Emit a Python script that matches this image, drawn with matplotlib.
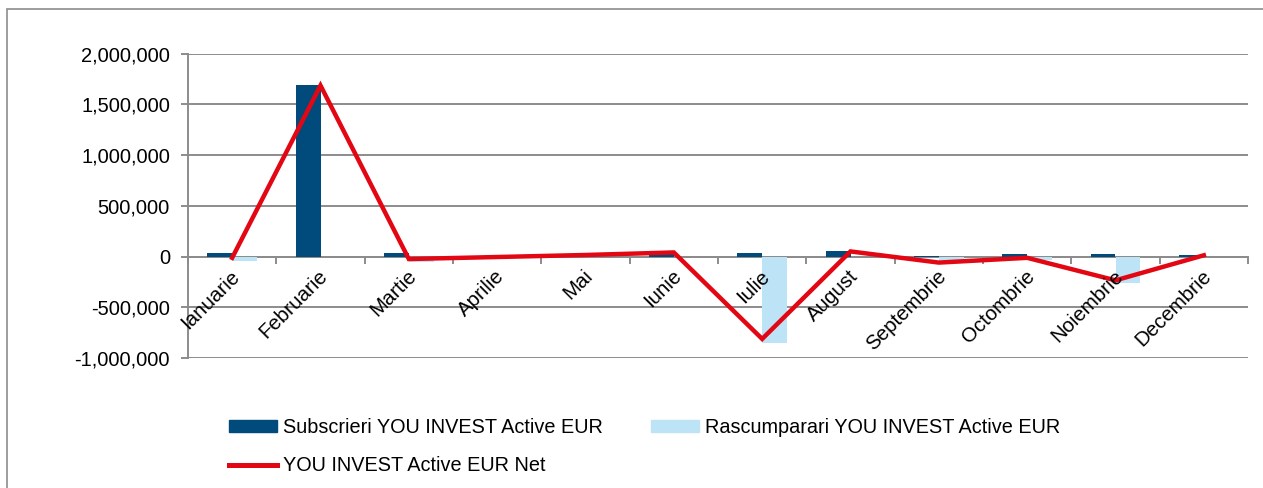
import matplotlib
matplotlib.use("Agg")
import matplotlib.pyplot as plt
from matplotlib.lines import Line2D
from matplotlib.patches import Patch, Rectangle
import numpy as np

# values (EUR)
luni = ["Ianuarie", "Februarie", "Martie", "Aprilie", "Mai", "Iunie",
        "Iulie", "August", "Septembrie", "Octombrie", "Noiembrie", "Decembrie"]
subscrieri = [35000, 1685000, 30000, 0, 15000, 40000,
              36000, 50000, 5000, 25000, 25000, 12000]
rascumparari = [-48000, 0, -55000, -5000, 0, 0,
                -848000, 0, -65000, -38000, -260000, 0]
net = [-13000, 1685000, -25000, -5000, 15000, 40000,
       -812000, 50000, -60000, -13000, -235000, 12000]
y_ticks = [-1000000, -500000, 0, 500000, 1000000, 1500000, 2000000]

c_sub = "#004a7c"
c_rasc = "#bde3f7"
c_net = "#e30613"
c_grid = "#8c8c8c"

plt.rcParams['font.family'] = ['Liberation Sans', 'DejaVu Sans']

fig = plt.figure(figsize=(12.63, 4.88), dpi=100)
ax = fig.add_axes([188 / 1263, 1 - 358 / 488, (1248 - 188) / 1263, (358 - 53.5) / 488])

x = np.arange(len(luni))
w = 0.28
ax.bar(x - w / 2, subscrieri, width=w, color=c_sub, zorder=2)
ax.bar(x + w / 2, rascumparari, width=w, color=c_rasc, zorder=2)
ax.plot(x, net, color=c_net, lw=3.2, zorder=4, solid_joinstyle='miter')

ax.set_xlim(-0.5, len(luni) - 0.5)
ax.set_ylim(-1000000, 2000000)
ax.set_yticks(y_ticks)
ax.set_yticklabels([f"{v:,}" for v in y_ticks], fontsize=14.5)
ax.yaxis.grid(True, color=c_grid, lw=1.4, zorder=0)
ax.set_axisbelow(True)

for s in ["top", "right"]:
    ax.spines[s].set_visible(False)
ax.spines["left"].set_color(c_grid)
ax.spines["left"].set_linewidth(1.4)
ax.spines["bottom"].set_position(("data", 0))
ax.spines["bottom"].set_color(c_grid)
ax.spines["bottom"].set_linewidth(1.4)
ax.spines["bottom"].set_zorder(1)
ax.tick_params(axis="y", length=5, width=1.4, color=c_grid, pad=8)
ax.set_xticks(np.arange(len(luni) + 1) - 0.5)
ax.set_xticklabels([])
ax.tick_params(axis="x", length=5, width=1.4, color=c_grid, direction="out")

for i, lab in enumerate(luni):
    ax.text(i + 0.05, -165000, lab, rotation=45, rotation_mode="anchor",
            ha="right", va="center", fontsize=14.8, zorder=5)

# column-wise fill: first column gets Subscrieri + Net, second Rascumparari
handles = [Patch(color=c_sub), Line2D([], [], color=c_net, lw=3.6), Patch(color=c_rasc)]
labels = ["Subscrieri YOU INVEST Active EUR", "YOU INVEST Active EUR Net",
          "Rascumparari YOU INVEST Active EUR"]
leg = fig.legend(handles, labels, ncol=2, loc="upper left",
                 bbox_to_anchor=(229 / 1263, 1 - 418 / 488), frameon=False,
                 borderpad=0, borderaxespad=0,
                 prop={'family': 'Liberation Sans', 'size': 14.3},
                 handlelength=2.4, handleheight=0.5,
                 handletextpad=0.3, columnspacing=2.45, labelspacing=0.95)

fig.patches.append(Rectangle((7 / 1263, -0.1), 1.2, 1 - 9 / 488 + 0.1,
                             transform=fig.transFigure, fill=False,
                             edgecolor="#8c8c8c", lw=1.2))

fig.savefig("out.png", dpi=100)
